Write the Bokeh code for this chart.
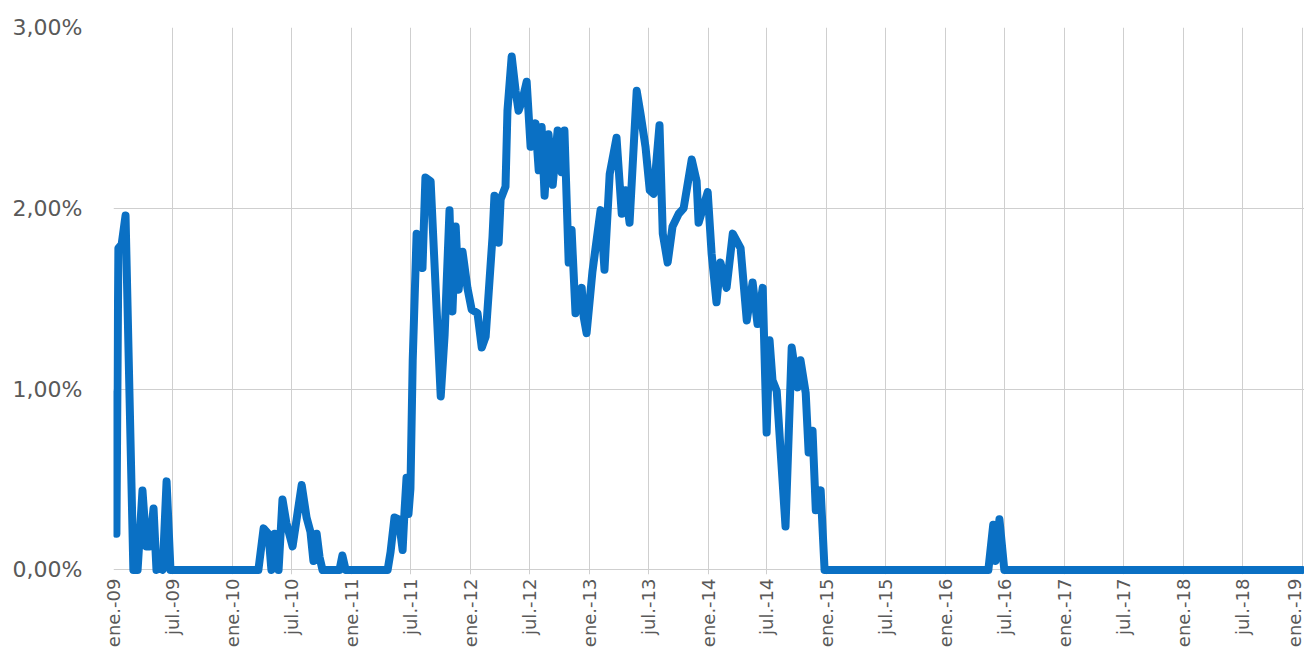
import pandas as pd
from datetime import datetime
from bokeh.plotting import figure
from bokeh.models import ColumnDataSource, FixedTicker, CustomJSTickFormatter, Range1d
from bokeh.embed import file_html
from bokeh.resources import INLINE

# ---- data ----
dates = [
    "2009-01-01", "2009-01-10", "2009-01-16", "2009-01-26", "2009-02-07", "2009-03-03", "2009-03-16",
    "2009-03-31", "2009-04-12", "2009-04-22", "2009-05-04", "2009-05-13", "2009-05-22", "2009-06-01",
    "2009-06-13", "2009-06-25",
    "2010-03-22", "2010-04-07", "2010-04-22", "2010-05-01", "2010-05-11", "2010-05-23", "2010-06-04",
    "2010-06-16", "2010-07-05", "2010-08-02", "2010-08-17", "2010-08-29", "2010-09-07", "2010-09-17",
    "2010-09-26", "2010-10-05",
    "2010-11-26", "2010-12-05", "2010-12-15",
    "2011-04-23", "2011-05-02", "2011-05-14", "2011-05-27", "2011-06-08", "2011-06-14", "2011-06-20",
    "2011-06-26", "2011-07-02", "2011-07-09", "2011-07-21", "2011-08-08", "2011-08-17", "2011-09-02",
    "2011-10-03", "2011-10-15", "2011-10-30", "2011-11-08", "2011-11-18", "2011-11-27", "2011-12-09",
    "2011-12-24",
    "2012-01-06", "2012-01-24", "2012-02-06", "2012-02-18", "2012-03-10", "2012-03-16", "2012-03-29",
    "2012-04-04", "2012-04-19", "2012-04-25", "2012-05-08", "2012-05-20", "2012-05-29", "2012-06-10",
    "2012-06-23", "2012-07-05", "2012-07-20", "2012-07-30", "2012-08-08", "2012-08-17", "2012-08-29",
    "2012-09-11", "2012-09-26", "2012-10-08", "2012-10-17", "2012-10-30", "2012-11-08", "2012-11-20",
    "2012-12-09", "2012-12-15", "2012-12-24",
    "2013-01-11", "2013-02-05", "2013-02-17", "2013-03-05", "2013-03-26", "2013-04-11", "2013-04-23",
    "2013-05-05", "2013-05-27", "2013-06-08", "2013-06-23", "2013-07-06", "2013-07-18", "2013-08-05",
    "2013-08-15", "2013-08-30", "2013-09-14", "2013-10-03", "2013-10-18", "2013-11-12", "2013-11-27",
    "2013-12-03", "2013-12-31",
    "2014-01-12", "2014-01-27", "2014-02-08", "2014-02-27", "2014-03-18", "2014-04-11", "2014-04-30",
    "2014-05-18", "2014-06-02", "2014-06-18", "2014-06-30", "2014-07-09", "2014-07-18", "2014-07-31",
    "2014-08-27", "2014-09-15", "2014-10-03", "2014-10-12", "2014-10-28", "2014-11-06", "2014-11-18",
    "2014-11-28", "2014-12-13", "2014-12-25",
    "2016-05-11", "2016-05-26", "2016-06-02", "2016-06-14", "2016-06-29",
    "2019-01-01",
]

values = [
    0.97, 0.20, 1.78, 1.80, 1.96, 0.00, 0.00,
    0.44, 0.13, 0.13, 0.34, 0.00, 0.05, 0.00,
    0.49, 0.00,
    0.00, 0.23, 0.20, 0.00, 0.20, 0.00, 0.39,
    0.26, 0.13, 0.47, 0.29, 0.21, 0.05, 0.20,
    0.07, 0.00,
    0.00, 0.08, 0.00,
    0.00, 0.10, 0.29, 0.28, 0.11, 0.33, 0.51,
    0.31, 0.45, 1.16, 1.86, 1.67, 2.17, 2.15,
    0.96, 1.30, 1.99, 1.43, 1.90, 1.55, 1.76,
    1.56,
    1.44, 1.42, 1.23, 1.29, 1.84, 2.07, 1.81,
    2.05, 2.12, 2.54, 2.84, 2.65, 2.54, 2.60,
    2.70, 2.34, 2.47, 2.21, 2.45, 2.07, 2.41,
    2.13, 2.43, 2.20, 2.43, 1.70, 1.88, 1.42,
    1.56, 1.40, 1.31,
    1.65, 1.99, 1.66, 2.19, 2.39, 1.97, 2.10,
    1.92, 2.65, 2.52, 2.34, 2.10, 2.08, 2.46,
    1.86, 1.70, 1.90, 1.97, 2.00, 2.27, 2.15,
    1.92, 2.09,
    1.75, 1.48, 1.70, 1.56, 1.86, 1.78, 1.38,
    1.59, 1.36, 1.56, 0.76, 1.27, 1.05, 0.99,
    0.24, 1.23, 1.01, 1.16, 0.98, 0.65, 0.77,
    0.33, 0.44, 0.00,
    0.00, 0.25, 0.05, 0.28, 0.00,
    0.00,
]

tick_labels = [
    "ene.-09", "jul.-09", "ene.-10", "jul.-10", "ene.-11", "jul.-11", "ene.-12", "jul.-12",
    "ene.-13", "jul.-13", "ene.-14", "jul.-14", "ene.-15", "jul.-15", "ene.-16", "jul.-16",
    "ene.-17", "jul.-17", "ene.-18", "jul.-18", "ene.-19",
]
tick_dates = [
    "2009-01-01", "2009-07-01", "2010-01-01", "2010-07-01", "2011-01-01", "2011-07-01",
    "2012-01-01", "2012-07-01", "2013-01-01", "2013-07-01", "2014-01-01", "2014-07-01",
    "2015-01-01", "2015-07-01", "2016-01-01", "2016-07-01", "2017-01-01", "2017-07-01",
    "2018-01-01", "2018-07-01", "2019-01-01",
]
y_ticks = [0, 1, 2, 3]
y_tick_labels = ["0,00%", "1,00%", "2,00%", "3,00%"]

# ---- build ----
source = ColumnDataSource(data=dict(date=pd.to_datetime(dates), value=values))
tick_ms = [float(pd.Timestamp(d).value // 10**6) for d in tick_dates]

p = figure(
    width=1304, height=650,
    x_axis_type="datetime",
    x_range=Range1d(start=datetime(2009, 1, 1), end=datetime(2019, 1, 7)),
    y_range=Range1d(start=-0.025, end=3.0),
    output_backend="svg", toolbar_location=None,
    min_border_left=113, min_border_right=0, min_border_top=27, min_border_bottom=72,
)
p.outline_line_color = None
p.background_fill_color = "white"
p.border_fill_color = "white"

p.line(x="date", y="value", source=source, line_width=8, line_color="#0A70C4",
       line_join="round", line_cap="round")

# x axis
p.xaxis.ticker = FixedTicker(ticks=tick_ms)
p.xaxis.formatter = CustomJSTickFormatter(
    args=dict(tick_vals=tick_ms, tick_names=tick_labels),
    code="""
    let best = -1, bd = Infinity;
    for (let i = 0; i < tick_vals.length; i++) {
        const d = Math.abs(tick_vals[i] - tick);
        if (d < bd) { bd = d; best = i; }
    }
    return (best >= 0 && bd < 86400000 * 2) ? tick_names[best] : '';
    """,
)
p.xaxis.major_label_orientation = 1.5707963267948966
p.xaxis.axis_line_color = None
p.xaxis.major_tick_line_color = None
p.xaxis.minor_tick_line_color = None
p.xaxis.major_tick_out = 0
p.xaxis.major_tick_in = 0
p.xaxis.major_label_standoff = 4
p.xaxis.major_label_text_font = "DejaVu Sans"
p.xaxis.major_label_text_font_size = "18px"
p.xaxis.major_label_text_color = "#595959"

# y axis
p.yaxis.ticker = FixedTicker(ticks=y_ticks)
p.yaxis.major_label_overrides = {t: lab for t, lab in zip(y_ticks, y_tick_labels)}
p.yaxis.axis_line_color = None
p.yaxis.major_tick_line_color = None
p.yaxis.minor_tick_line_color = None
p.yaxis.major_tick_out = 0
p.yaxis.major_tick_in = 0
p.yaxis.major_label_standoff = 31
p.yaxis.major_label_text_font = "DejaVu Sans"
p.yaxis.major_label_text_font_size = "22px"
p.yaxis.major_label_text_color = "#595959"

# grids
p.xgrid.grid_line_color = "#cfcfcf"
p.xgrid.grid_line_width = 1
p.ygrid.grid_line_color = "#cfcfcf"
p.ygrid.grid_line_width = 1

open("out.html", "w").write(file_html(p, INLINE))
